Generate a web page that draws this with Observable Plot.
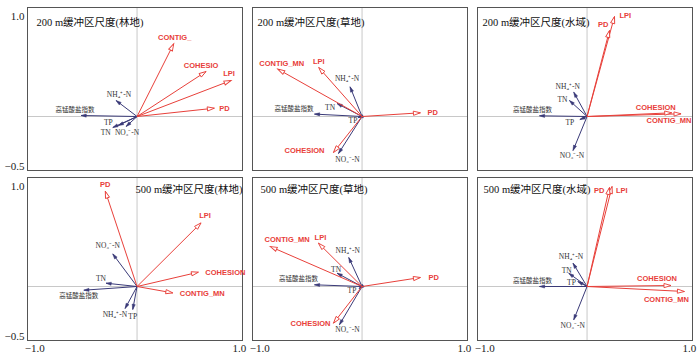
<!DOCTYPE html>
<html><head><meta charset="utf-8">
<script src="https://cdn.jsdelivr.net/npm/d3@7"></script>
<script src="https://cdn.jsdelivr.net/npm/@observablehq/plot@0.6"></script>
<style>
html,body{margin:0;padding:0;background:#fff;}
#chart{width:700px;height:358px;overflow:hidden;}
</style></head><body><div id="chart"></div>
<script>
// ---------- data ----------
const panelTitles = ["200 m缓冲区尺度(林地)", "200 m缓冲区尺度(草地)", "200 m缓冲区尺度(水域)",
                     "500 m缓冲区尺度(林地)", "500 m缓冲区尺度(草地)", "500 m缓冲区尺度(水域)"];
const panelRow = ["200 m", "200 m", "200 m", "500 m", "500 m", "500 m"];
const panelCol = ["林地", "草地", "水域", "林地", "草地", "水域"];
const landscapeNames = ["CONTIG_MN", "COHESION", "LPI", "PD"];
const landscapeNamesPanel1 = ["CONTIG_", "COHESIO", "LPI", "PD"]; // truncated in the first panel
const waterNames = ["高锰酸盐指数", "NH₄⁺-N", "NO₃⁻-N", "TN", "TP"];
// RDA axis-1 / axis-2 scores, one row per panel, columns follow the name lists
const landscapeRDA1 = [
  [0.358, 0.674, 0.918, 0.755],
  [-0.823, -0.279, -0.423, 0.570],
  [0.918, 0.827, 0.268, 0.219],
  [0.349, 0.599, 0.625, -0.310],
  [-0.898, -0.279, -0.426, 0.570],
  [0.951, 0.820, 0.244, 0.219]];
const landscapeRDA2 = [
  [0.727, 0.45, 0.36, 0.083],
  [0.474, -0.36, 0.49, 0.037],
  [0.027, 0.037, 1.0, 0.86],
  [-0.064, 0.143, 0.636, 0.953],
  [0.40, -0.367, 0.433, 0.09],
  [-0.05, 0.01, 1.0, 0.99]];
const waterRDA1 = [
  [-0.547, -0.205, -0.107, -0.237, -0.183],
  [-0.465, -0.117, -0.230, -0.244, -0.040],
  [-0.465, -0.130, -0.137, -0.172, -0.070],
  [-0.520, -0.117, -0.237, -0.303, -0.042],
  [-0.465, -0.130, -0.221, -0.244, -0.030],
  [-0.465, -0.137, -0.130, -0.179, -0.090]];
const waterRDA2 = [
  [0.01, 0.16, -0.10, -0.11, -0.09],
  [0.024, 0.297, -0.37, 0.13, -0.01],
  [0.007, 0.243, -0.34, 0.16, -0.03],
  [-0.037, -0.22, 0.326, 0.033, -0.23],
  [0.017, 0.29, -0.383, 0.133, -0.02],
  [0.0, 0.233, -0.333, 0.133, 0.05]];
const xTicks = [-1.0, 1.0];
const yTicks = [1.0, -0.5];

// ---------- layout (label placement in px: dx, dy, anchor) ----------
const landLabelPos = [
  [[1,-6,"middle"],[-5,-6,"middle"],[-2,-7,"middle"],[5,0,"start"]],
  [[4,-6,"middle"],[-9,-2,"end"],[0,-6,"middle"],[7,0,"start"]],
  [[-12,7,"middle"],[-16,-5,"middle"],[5,-1,"start"],[-1,-6,"end"]],
  [[7,1,"start"],[7,0,"start"],[4,-7,"middle"],[0,-7,"middle"]],
  [[17,-7,"middle"],[-3,0,"end"],[2,-6,"middle"],[8,0,"start"]],
  [[-18,8,"middle"],[-14,-7,"middle"],[4,4,"start"],[-5,3,"end"]]];
const waterLabelPos = [
  [[-6,-6,"middle"],[3,-6,"middle"],[1,6,"middle"],[-7,5,"middle"],[-10,-3,"middle"]],
  [[-1,-5,"end"],[-3,-8,"middle"],[9,6,"middle"],[-2,4,"end"],[-5,3,"middle"]],
  [[-7,-6,"middle"],[-6,-6,"middle"],[-1,5,"middle"],[-2,-1,"end"],[-10,3,"middle"]],
  [[-5,6,"middle"],[2,6,"end"],[-5,-8,"middle"],[-5,-5,"middle"],[0,7,"middle"]],
  [[-16,-6,"middle"],[-1,-7,"middle"],[8,5,"middle"],[-1,-4,"middle"],[-7,2,"middle"]],
  [[-7,-6,"middle"],[-2,-7,"middle"],[-1,6,"middle"],[-2,-3,"middle"],[-2,1,"end"]]];
const titlePos = [[9,15],[5,15],[5,15],[108,12],[8,12],[6,12]];

const W = 700, H = 358;
const mL = 27, mR = 8, mT = 7, mB = 18;
const bandW = 215, bandH = 163;
const xDomain = [-1.07, 1.03], yDomain = [-0.54, 1.09];
const kx = bandW / (xDomain[1] - xDomain[0]);
const ky = bandH / (yDomain[1] - yDomain[0]);
const padX = (W - mL - mR - 3 * bandW) / 2 / ((W - mL - mR - 3 * bandW) / 2 + bandW);
const padY = (H - mT - mB - 2 * bandH) / ((H - mT - mB - 2 * bandH) + bandH);

const RED = "#e8403a", NAVY = "#3a3a78";

function build(namesFor, rda1, rda2, pos) {
  const out = [];
  for (let i = 0; i < 6; i++) {
    const names = namesFor(i);
    names.forEach((n, j) => {
      const x = rda1[i][j], y = rda2[i][j];
      const [dx, dy, anchor] = pos[i][j];
      out.push({row: panelRow[i], col: panelCol[i], name: n, x, y,
        lx: x + dx / kx, ly: y - dy / ky, anchor,
        angle: Math.atan2(x * kx, y * ky) * 180 / Math.PI});
    });
  }
  return out;
}
const landRows = build(i => i === 0 ? landscapeNamesPanel1 : landscapeNames, landscapeRDA1, landscapeRDA2, landLabelPos);
const waterRows = build(() => waterNames, waterRDA1, waterRDA2, waterLabelPos);
const titleRows = panelTitles.map((t, i) => ({title: t, row: panelRow[i], col: panelCol[i], i}));

// arrow head symbol: tip at origin, pointing up
const headSymbol = {
  draw(ctx, size) {
    const r = Math.sqrt(size / Math.PI);
    ctx.moveTo(0, 0);
    ctx.lineTo(-0.6 * r, 2 * r);
    ctx.lineTo(0.6 * r, 2 * r);
    ctx.closePath();
  }
};

function labelMarks(rows, opts) {
  return ["start", "middle", "end"].map(a =>
    Plot.text(rows.filter(d => d.anchor === a), {fx: "col", fy: "row", x: "lx", y: "ly", text: "name", textAnchor: a, ...opts}));
}
const fmt = d => d.toFixed(1).replace("-", "−");

const plot = Plot.plot({
  width: W, height: H,
  marginLeft: mL, marginRight: mR, marginTop: mT, marginBottom: mB,
  style: {fontFamily: "'Liberation Serif', 'Noto Sans CJK SC', serif", fontSize: "11px", color: "#222", background: "white"},
  fx: {domain: ["林地", "草地", "水域"], paddingInner: padX, paddingOuter: 0, round: false, axis: null},
  fy: {domain: ["200 m", "500 m"], paddingInner: padY, paddingOuter: 0, round: false, axis: null},
  x: {domain: xDomain, ticks: xTicks, tickFormat: fmt, tickSize: 0, tickPadding: 4, label: null},
  y: {domain: yDomain, ticks: yTicks, tickFormat: fmt, tickSize: 0, tickPadding: 3, label: null},
  marks: [
    Plot.ruleX([0], {stroke: "#c8c8c8", strokeWidth: 1}),
    Plot.ruleY([0], {stroke: "#c8c8c8", strokeWidth: 1}),
    Plot.frame({stroke: "#555", strokeWidth: 1}),
    ...titleRows.map(d => Plot.text([d], {fx: "col", fy: "row", text: "title", frameAnchor: "top-left",
      dx: titlePos[d.i][0], dy: titlePos[d.i][1], textAnchor: "start", lineAnchor: "middle", fontSize: 10.5, fill: "#111"})),
    Plot.link(waterRows, {fx: "col", fy: "row", x1: () => 0, y1: () => 0, x2: "x", y2: "y", stroke: NAVY, strokeWidth: 1}),
    Plot.dot(waterRows, {fx: "col", fy: "row", x: "x", y: "y", rotate: "angle", symbol: headSymbol, r: 2.6, fill: NAVY, stroke: NAVY, strokeWidth: 0.5}),
    Plot.link(landRows, {fx: "col", fy: "row", x1: () => 0, y1: () => 0, x2: "x", y2: "y", stroke: RED, strokeWidth: 1}),
    Plot.dot(landRows, {fx: "col", fy: "row", x: "x", y: "y", rotate: "angle", symbol: headSymbol, r: 3.5, fill: "white", stroke: RED, strokeWidth: 0.9}),
    ...labelMarks(landRows, {fill: RED, fontFamily: "'Liberation Sans', Arial, sans-serif", fontWeight: "bold", fontSize: 7.5}),
    ...labelMarks(waterRows, {fill: "#333", fontSize: d => d.name === waterNames[0] ? 6.5 : 7.5})
  ]
});
document.getElementById("chart").appendChild(plot);
</script>
</body></html>
